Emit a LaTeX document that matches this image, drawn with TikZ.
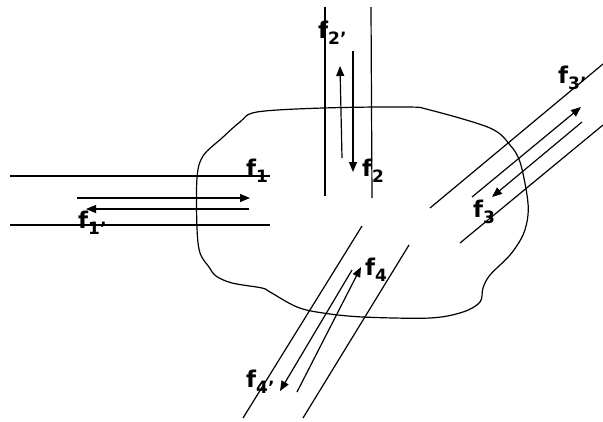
\documentclass[tikz,border=0pt]{standalone}
\usepackage{fontspec}
\setmainfont{DejaVu Sans}
\usetikzlibrary{arrows.meta}
\tikzset{%
  wall/.style={draw, line width=1.2pt},
  flow/.style={draw, line width=1.2pt, -{Triangle[length=10pt,width=8pt]}},
  flux label/.style={anchor=base west, inner sep=0pt, font=\fontsize{23}{26}\selectfont\bfseries},
}
\newcommand{\flux}[1]{f\raisebox{-0.3em}{\fontsize{17}{19}\selectfont#1}}
\begin{document}
\begin{tikzpicture}[x=1pt,y=-1pt]
  \useasboundingbox (0,0) rectangle (603,421);
  % control volume
  \draw[line width=1.2pt] plot[smooth cycle, tension=0.55] coordinates {
    (257,112) (323,108) (407,107) (430,110) (490,128) (510,145) (520,162)
    (527,195) (528,215) (523,235) (510,255) (490,275) (483,288) (480,302)
    (463,312) (430,318) (363,317) (323,313) (297,307) (270,292) (262,288)
    (232,283) (216,276) (209,267) (200,253) (197,228) (197,178) (203,156)
    (222,138) (240,122)};
  % port 1 (left)
  \coordinate (p1a) at (10,176);  \coordinate (p1b) at (270,176);
  \coordinate (p1c) at (10,225);  \coordinate (p1d) at (270,225);
  \coordinate (p1i) at (77,198);  \coordinate (p1o) at (250,198);
  \coordinate (p1r) at (249,209); \coordinate (p1l) at (86,209);
  \draw[wall] (p1a) -- (p1b);
  \draw[wall] (p1c) -- (p1d);
  \draw[flow] (p1i) -- (p1o);
  \draw[flow] (p1r) -- (p1l);
  \node[flux label] (f1) at (246,176) {\flux{1}};
  \node[flux label] (f1p) at (78,228) {\flux{1’}};
  % port 2 (top)
  \coordinate (p2a) at (325,7);   \coordinate (p2b) at (325,196);
  \coordinate (p2c) at (371,7);   \coordinate (p2d) at (372,198);
  \coordinate (p2i) at (353,51);  \coordinate (p2o) at (353,172);
  \coordinate (p2r) at (342,158); \coordinate (p2l) at (340,66);
  \draw[wall] (p2a) -- (p2b);
  \draw[wall] (p2c) -- (p2d);
  \draw[flow] (p2i) -- (p2o);
  \draw[flow] (p2r) -- (p2l);
  \node[flux label] (f2) at (362,176) {\flux{2}};
  \node[flux label] (f2p) at (318,38) {\flux{2’}};
  % port 3 (right)
  \coordinate (p3a) at (430,208); \coordinate (p3b) at (603,64);
  \coordinate (p3c) at (460,243); \coordinate (p3d) at (603,125);
  \coordinate (p3i) at (582,122); \coordinate (p3o) at (492,197);
  \coordinate (p3r) at (472,197); \coordinate (p3l) at (581,107);
  \draw[wall] (p3a) -- (p3b);
  \draw[wall] (p3c) -- (p3d);
  \draw[flow] (p3i) -- (p3o);
  \draw[flow] (p3r) -- (p3l);
  \node[flux label] (f3) at (473,217) {\flux{3}};
  \node[flux label] (f3p) at (558,83) {\flux{3’}};
  % port 4 (bottom)
  \coordinate (p4a) at (243,418); \coordinate (p4b) at (362,226);
  \coordinate (p4c) at (303,418); \coordinate (p4d) at (409,245);
  \coordinate (p4i) at (297,392); \coordinate (p4o) at (361,267);
  \coordinate (p4r) at (352,270); \coordinate (p4l) at (280,391);
  \draw[wall] (p4a) -- (p4b);
  \draw[wall] (p4c) -- (p4d);
  \draw[flow] (p4i) -- (p4o);
  \draw[flow] (p4r) -- (p4l);
  \node[flux label] (f4) at (365,275) {\flux{4}};
  \node[flux label] (f4p) at (246,387) {\flux{4’}};
\end{tikzpicture}
\end{document}
